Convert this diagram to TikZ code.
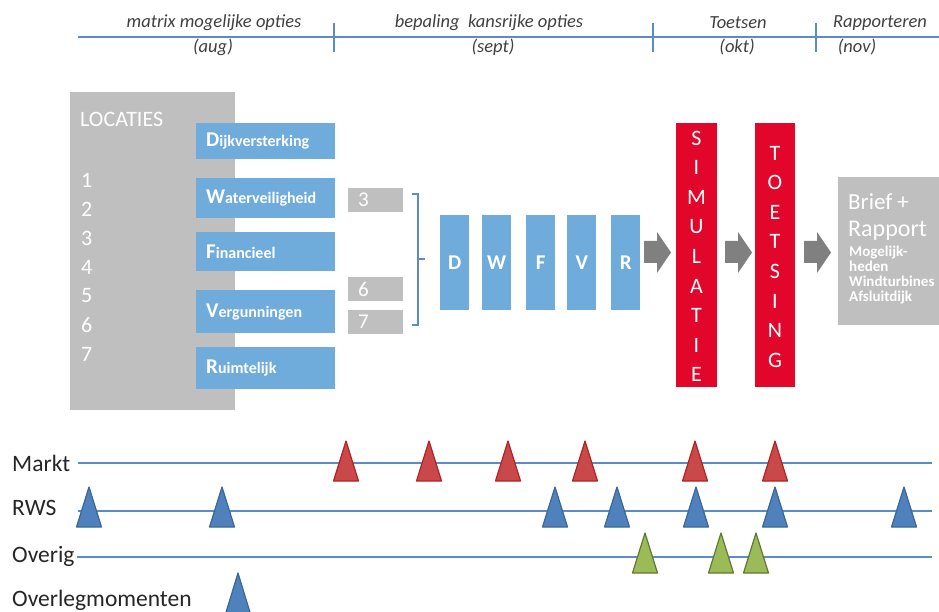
\documentclass[tikz,border=0pt]{standalone}
\usepackage{fontspec}
\setmainfont{Carlito}
\definecolor{tlblue}{HTML}{5B8BC9}
\definecolor{hdrgray}{HTML}{404040}
\definecolor{lgray}{HTML}{BFBFBF}
\definecolor{lblue}{HTML}{6FACDC}
\definecolor{rred}{HTML}{E3062B}
\definecolor{agray}{HTML}{808080}
\definecolor{trired}{HTML}{C9494A}
\definecolor{trireddraw}{HTML}{B22222}
\definecolor{triblue}{HTML}{4F81BD}
\definecolor{tribluedraw}{HTML}{3B6796}
\definecolor{trigreen}{HTML}{9BBB59}
\definecolor{trigreendraw}{HTML}{5E7A2E}
\newcommand\firstlet[1]{{\fontsize{21}{21}\selectfont #1}}
\begin{document}
\begin{tikzpicture}[x=1pt,y=-1pt,
  tl/.style={draw=tlblue, line width=1.3},
  hdr/.style={font=\fontsize{18.5}{20}\selectfont\itshape, text=hdrgray, inner sep=0},
  graybox/.style={fill=lgray, draw=none, inner sep=0, anchor=north west},
  bluebox/.style={fill=lblue, draw=none, anchor=north west, inner xsep=10, inner ysep=0,
     minimum width=139, text width=119, align=left, text=white,
     font=\fontsize{16}{17}\selectfont\bfseries},
  smallbox/.style={fill=lgray, draw=none, anchor=north west, inner xsep=10, inner ysep=0,
     minimum width=55, minimum height=24, text width=35, align=left, text=white,
     font=\fontsize{21}{21}\selectfont},
  colbox/.style={fill=lblue, draw=none, anchor=north west, inner sep=0,
     minimum width=29, minimum height=95, text=white, font=\fontsize{21}{21}\selectfont\bfseries},
  redbox/.style={fill=rred, draw=none, anchor=north west, inner sep=0,
     minimum width=41, minimum height=264},
  redtxt/.style={text=white, inner sep=0, font=\fontsize{22}{22}\selectfont},
  loctxt/.style={text=white, inner sep=0, anchor=west, font=\fontsize{22}{22}\selectfont},
  rowlbl/.style={text=black!85, inner sep=0, anchor=west, font=\fontsize{23.5}{24}\selectfont},
  blockarrow/.style={fill=agray, draw=none},
  tred/.style={fill=trired, draw=trireddraw, line width=1.2, line join=round},
  tblue/.style={fill=triblue, draw=tribluedraw, line width=1.2, line join=round},
  tgreen/.style={fill=trigreen, draw=trigreendraw, line width=1.2, line join=round}
]
\useasboundingbox (0,0) rectangle (939,612);

% header timeline
\draw[tl] (78,37) -- (939,37);
\foreach \x in {334,653,816} \draw[tl] (\x,23) -- (\x,52);
\node[hdr] (h1) at (214,23) {matrix mogelijke opties};
\node[hdr] (h1b) at (213,47) {(aug)};
\node[hdr] (h2) at (489,23) {bepaling\ \ kansrijke opties};
\node[hdr] (h2b) at (493,47) {(sept)};
\node[hdr] (h3) at (738,23) {Toetsen};
\node[hdr] (h3b) at (737,47) {(okt)};
\node[hdr] (h4) at (880,23) {Rapporteren};
\node[hdr] (h4b) at (857,47) {(nov)};

% LOCATIES
\node[graybox, minimum width=165, minimum height=318] (loc) at (70,92) {};
\node[loctxt] (loct) at (80,119) {LOCATIES};
\foreach \n [count=\i] in {1,...,7}
  \node[loctxt] (l\n) at (81,{180+29*(\i-1)}) {\n};

% criteria boxes
\node[bluebox, minimum height=36] (dijk) at (196,123) {\firstlet{D}ijkversterking};
\node[bluebox, minimum height=40] (water) at (196,178) {\firstlet{W}aterveiligheid};
\node[bluebox, minimum height=39] (fin) at (196,232) {\firstlet{F}inancieel};
\node[bluebox, minimum height=43] (verg) at (196,290) {\firstlet{V}ergunningen};
\node[bluebox, minimum height=42] (ruim) at (196,347) {\firstlet{R}uimtelijk};

% selected locations
\node[smallbox] (s3) at (348,188) {3};
\node[smallbox] (s6) at (348,277) {6};
\node[smallbox] (s7) at (348,310) {7};

% bracket
\coordinate (bt) at (412,194);
\coordinate (bb) at (412,325);
\draw[tlblue, line width=1.2] (bt) -- ++(6,0) -- (418,325) -- (bb);
\draw[tlblue, line width=1.2] (419,259) -- (425,259);

% DWFVR columns
\foreach \l/\x in {D/440,W/482,F/526,V/567,R/611}
  \node[colbox] (c\l) at (\x,215) {\l};

% block arrows
\foreach \dx in {0,81,160}
  \fill[blockarrow, xshift=\dx] (644,241) -- (657,241) -- (657,232) -- (671,252.5)
     -- (657,273) -- (657,263) -- (644,263) -- cycle;

% SIMULATIE / TOETSING
\node[redbox] (sim) at (676,123) {};
\foreach \c [count=\i] in {S,I,M,U,L,A,T,I,E}
  \node[redtxt] at (696.5,{138+29.6*(\i-1)}) {\c};
\node[redbox, minimum width=40] (toets) at (755,123) {};
\foreach \c [count=\i] in {T,O,E,T,S,I,N,G}
  \node[redtxt] at (775,{153+29.6*(\i-1)}) {\c};

% Brief + Rapport
\node[graybox, minimum width=101, minimum height=148] (brief) at (838,177) {};
\node[loctxt, font=\fontsize{23}{23}\selectfont] (b1) at (848,202) {Brief +};
\node[loctxt, font=\fontsize{24}{24}\selectfont] (b2) at (848,231) {Rapport};
\node[loctxt, anchor=north west, align=left, font=\fontsize{15}{15}\selectfont\bfseries] (b3) at (849,246)
  {Mogelijk-\\heden\\Windturbines\\Afsluitdijk};

% bottom rows
\node[rowlbl] (markt) at (12,463) {Markt};
\node[rowlbl] (rws) at (12,508) {RWS};
\node[rowlbl] (overig) at (12,556) {Overig};
\node[rowlbl] (overleg) at (12,600) {Overlegmomenten};
\draw[tl] (78,463) -- (932,463);
\draw[tl] (78,511) -- (932,511);
\draw[tl] (77,557) -- (932,557);

\foreach \x in {346,429,508,585,695,775}
  \draw[tred] (\x-12.5,481) -- (\x,441) -- (\x+12.5,481) -- cycle;
\foreach \x in {89,222,555,617,696,775,904}
  \draw[tblue] (\x-12.5,527) -- (\x,487) -- (\x+12.5,527) -- cycle;
\foreach \x in {645,721,756}
  \draw[tgreen] (\x-12.5,573) -- (\x,533) -- (\x+12.5,573) -- cycle;
\draw[tblue] (225.5,614) -- (238,573) -- (250.5,614) -- cycle;
\end{tikzpicture}
\end{document}
